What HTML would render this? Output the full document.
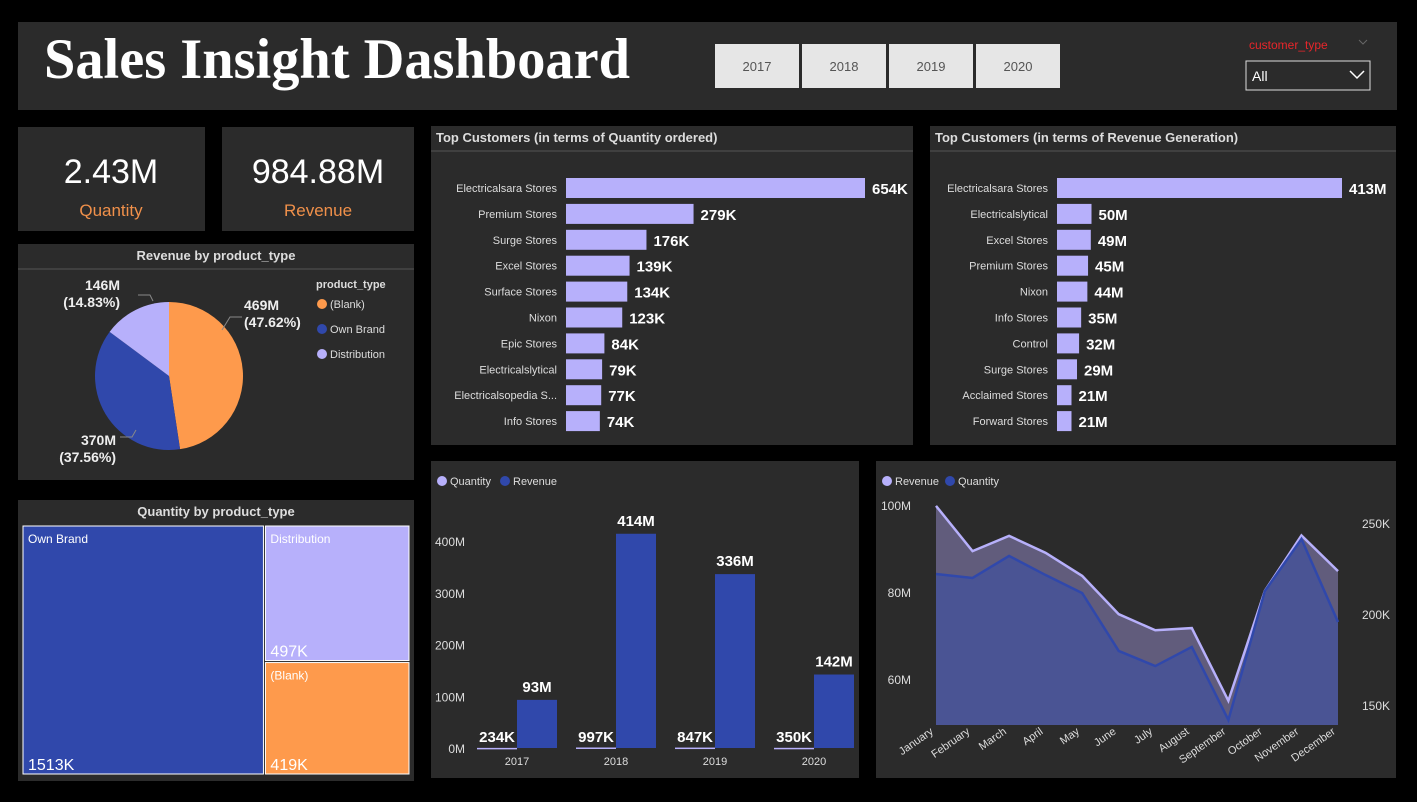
<!DOCTYPE html>
<html><head><meta charset="utf-8"><style>
body{margin:0;background:#000;width:1417px;height:797px;overflow:hidden;font-family:"Liberation Sans",sans-serif}
svg text{font-family:"Liberation Sans",sans-serif}
</style></head><body>
<svg id="s" width="1417" height="797" xmlns="http://www.w3.org/2000/svg">
<rect width="1417" height="797" fill="#000"/>
<g>
<rect x="18" y="22" width="1379" height="88" fill="#2b2b2b"/>
<text x="44" y="78" fill="#fff" font-size="57" font-weight="bold" textLength="586" lengthAdjust="spacingAndGlyphs" style="font-family:'Liberation Serif',serif">Sales Insight Dashboard</text>
</g>
<g id="years"></g>
<g>
<text x="1249" y="49" fill="#e8262b" font-size="12">customer_type</text>
<path d="M1359 40l4 4 4-4" stroke="#666" fill="none"/>
<rect x="1246" y="61" width="124" height="29" fill="#2b2b2b" stroke="#ddd"/>
<text x="1252" y="81" fill="#fff" font-size="14">All</text>
<path d="M1350 71l7 7 7-7" stroke="#fff" stroke-width="1.5" fill="none"/>
</g>
<g>
<rect x="18" y="127" width="187" height="104" fill="#2b2b2b"/>
<text x="111" y="183" fill="#fff" font-size="34" text-anchor="middle">2.43M</text>
<text x="111" y="216" fill="#f0904a" font-size="17" text-anchor="middle">Quantity</text>
</g>
<g>
<rect x="222" y="127" width="192" height="104" fill="#2b2b2b"/>
<text x="318" y="183" fill="#fff" font-size="34" text-anchor="middle">984.88M</text>
<text x="318" y="216" fill="#f0904a" font-size="17" text-anchor="middle">Revenue</text>
</g>
<g>
<rect x="18" y="244" width="396" height="236" fill="#2b2b2b"/>
<text x="216" y="260" fill="#ddd" font-size="13" font-weight="bold" text-anchor="middle">Revenue by product_type</text>
<line x1="18" y1="269" x2="414" y2="269" stroke="#555"/>
<g id="pie"></g>
<text x="316" y="288" fill="#ddd" font-size="11" font-weight="bold">product_type</text>
<g id="pieleg"></g>
</g>
<g>
<rect x="18" y="500" width="396" height="281" fill="#2b2b2b"/>
<text x="216" y="516" fill="#ddd" font-size="13" font-weight="bold" text-anchor="middle">Quantity by product_type</text>
<g id="tree"></g>
</g>
<g>
<rect x="431" y="126" width="482" height="319" fill="#2b2b2b"/>
<text x="436" y="142" fill="#ddd" font-size="13" font-weight="bold">Top Customers (in terms of Quantity ordered)</text>
<line x1="431" y1="151" x2="913" y2="151" stroke="#555"/>
<g id="hq"></g>
</g>
<g>
<rect x="930" y="126" width="466" height="319" fill="#2b2b2b"/>
<text x="935" y="142" fill="#ddd" font-size="13" font-weight="bold">Top Customers (in terms of Revenue Generation)</text>
<line x1="930" y1="151" x2="1396" y2="151" stroke="#555"/>
<g id="hr"></g>
</g>
<g>
<rect x="431" y="461" width="428" height="317" fill="#2b2b2b"/>
<circle cx="442" cy="481" r="5" fill="#b7b0fb"/><text x="450" y="485" fill="#ddd" font-size="11">Quantity</text>
<circle cx="505" cy="481" r="5" fill="#3048ab"/><text x="513" y="485" fill="#ddd" font-size="11">Revenue</text>
<g id="bars"></g>
</g>
<g>
<rect x="876" y="461" width="520" height="317" fill="#2b2b2b"/>
<circle cx="887" cy="481" r="5" fill="#b7b0fb"/><text x="895" y="485" fill="#ddd" font-size="11">Revenue</text>
<circle cx="950" cy="481" r="5" fill="#3048ab"/><text x="958" y="485" fill="#ddd" font-size="11">Quantity</text>
<g id="area"></g>
</g>
</svg>
<script>
const years=["2017","2018","2019","2020"];
const yearRev=[93,414,336,142];
const yearQty=[234,997,847,350];
const revTicks=[0,100,200,300,400];
const pieCats=["(Blank)","Own Brand","Distribution"];
const pieVals=[469,370,146];
const pieLabels=["469M","370M","146M"];
const piePcts=["(47.62%)","(37.56%)","(14.83%)"];
const treeCats=["Own Brand","Distribution","(Blank)"];
const treeVals=[1513,497,419];
const qCust=["Electricalsara Stores","Premium Stores","Surge Stores","Excel Stores","Surface Stores","Nixon","Epic Stores","Electricalslytical","Electricalsopedia S...","Info Stores"];
const qVals=[654,279,176,139,134,123,84,79,77,74];
const rCust=["Electricalsara Stores","Electricalslytical","Excel Stores","Premium Stores","Nixon","Info Stores","Control","Surge Stores","Acclaimed Stores","Forward Stores"];
const rVals=[413,50,49,45,44,35,32,29,21,21];
const months=["January","February","March","April","May","June","July","August","September","October","November","December"];
const mRev=[99.8,89.4,92.9,89,83.7,74.9,71.2,71.7,55,80.3,93,84.8];
const mQty=[222,219.8,231.9,221.4,211.5,179.7,171.4,181.9,141.8,212.6,241.2,195.6];
const leftTicks=[60,80,100];
const rightTicks=[150,200,250];

const NS="http://www.w3.org/2000/svg";
function mk(p,t,a,txt){const e=document.createElementNS(NS,t);for(const k in a)e.setAttribute(k,a[k]);if(txt!==undefined)e.textContent=txt;p.appendChild(e);return e;}
const $=id=>document.getElementById(id);

years.forEach((y,i)=>{const g=mk($("years"),"g",{});


mk(g,"rect",{x:715+i*87,y:44,width:84,height:44,fill:"#e6e6e6"});
mk(g,"text",{x:757+i*87,y:71,fill:"#555","font-size":13,"text-anchor":"middle"},y);});

(function(){const cx=169,cy=376,r=74,tot=pieVals.reduce((a,b)=>a+b,0);const cols=["#fe9a4c","#3048ab","#b7b0fb"];let a0=-Math.PI/2;
const lp=[[244,310,"start"],[116,445,"end"],[120,290,"end"]];
pieVals.forEach((v,i)=>{const a1=a0+v/tot*2*Math.PI;const x0=cx+r*Math.cos(a0),y0=cy+r*Math.sin(a0),x1=cx+r*Math.cos(a1),y1=cy+r*Math.sin(a1);
const p=mk($("pie"),"path",{d:`M${cx} ${cy}L${x0} ${y0}A${r} ${r} 0 ${a1-a0>Math.PI?1:0} 1 ${x1} ${y1}Z`,fill:cols[i]});


const t=mk($("pie"),"text",{x:lp[i][0],y:lp[i][1],fill:"#eee","font-size":14,"font-weight":"bold","text-anchor":lp[i][2]});


mk(t,"tspan",{x:lp[i][0]},pieLabels[i]);mk(t,"tspan",{x:lp[i][0],dy:17},piePcts[i]);
a0=a1;
const lg=mk($("pieleg"),"g",{});


mk(lg,"circle",{cx:322,cy:304+i*25,r:5,fill:cols[i]});
mk(lg,"text",{x:330,y:308+i*25,fill:"#ddd","font-size":11},pieCats[i]);});
mk($("pie"),"path",{d:"M222 330L230 317L242 317",stroke:"#888",fill:"none"});
mk($("pie"),"path",{d:"M120 437L132 437L136 430",stroke:"#888",fill:"none"});
mk($("pie"),"path",{d:"M138 295L150 295L153 301",stroke:"#888",fill:"none"});
})();

(function(){const x=23,y=526,w=386,h=248,tot=treeVals.reduce((a,b)=>a+b,0);const cols=["#3048ab","#b7b0fb","#fe9a4c"];
const w0=w*treeVals[0]/tot;const rest=treeVals[1]+treeVals[2];const h1=h*treeVals[1]/rest;
const rects=[[x,y,w0,h],[x+w0+2,y,w-w0-2,h1],[x+w0+2,y+h1+2,w-w0-2,h-h1-2]];
rects.forEach((r,i)=>{const g=mk($("tree"),"g",{});


mk(g,"rect",{x:r[0],y:r[1],width:r[2],height:r[3],fill:cols[i],stroke:"#fff","stroke-width":1});
mk(g,"text",{x:r[0]+5,y:r[1]+17,fill:"#fff","font-size":12},treeCats[i]);
mk(g,"text",{x:r[0]+5,y:r[1]+r[3]-4,fill:"#fff","font-size":16},treeVals[i]+"K");});
})();

function hbars(gid,names,vals,x0,pxMax,suffix){const mx=Math.max(...vals);
names.forEach((n,i)=>{const yc=188+i*25.9;const w=vals[i]/mx*pxMax;const g=mk($(gid),"g",{});


mk(g,"text",{x:x0-9,y:yc+4,fill:"#ddd","font-size":11,"text-anchor":"end"},n);
mk(g,"rect",{x:x0,y:yc-10,width:w,height:20,fill:"#b7b0fb"});
mk(g,"text",{x:x0+w+7,y:yc+6,fill:"#fff","font-size":15,"font-weight":"bold"},vals[i]+suffix);});}
hbars("hq",qCust,qVals,566,299,"K");
hbars("hr",rCust,rVals,1057,285,"M");

(function(){const y0=748,sc=207/400;const g=$("bars");
revTicks.forEach(t=>{mk(g,"text",{x:465,y:y0-t*sc+5,fill:"#ddd","font-size":12,"text-anchor":"end"},t+"M");});
years.forEach((yr,i)=>{const gx=477+i*99;const qh=yearQty[i]/1000*sc;const rh=yearRev[i]*sc;
const q=mk(g,"rect",{x:gx,y:y0-qh,width:40,height:Math.max(qh,1.5),fill:"#b7b0fb"});


const r=mk(g,"rect",{x:gx+40,y:y0-rh,width:40,height:rh,fill:"#3048ab"});


mk(g,"text",{x:gx+38,y:y0-6,fill:"#fff","font-size":15,"font-weight":"bold","text-anchor":"end"},yearQty[i]+"K");
mk(g,"text",{x:gx+60,y:y0-rh-8,fill:"#fff","font-size":15,"font-weight":"bold","text-anchor":"middle"},yearRev[i]+"M");
mk(g,"text",{x:gx+40,y:765,fill:"#ddd","font-size":11,"text-anchor":"middle"},yr);});
})();

(function(){const g=$("area");const xL=936,xR=1338,yb=725;const X=i=>xL+i*(xR-xL)/(months.length-1);
const YL=v=>679-(v-60)*87/20;const YR=v=>614-(v-200)*91/50;
leftTicks.forEach(t=>mk(g,"text",{x:911,y:YL(t)+5,fill:"#ddd","font-size":12,"text-anchor":"end"},t+"M"));
rightTicks.forEach(t=>mk(g,"text",{x:1390,y:YR(t)+5,fill:"#ddd","font-size":12,"text-anchor":"end"},t+"K"));
const pr=mRev.map((v,i)=>X(i)+","+YL(v)).join(" L");const pq=mQty.map((v,i)=>X(i)+","+YR(v)).join(" L");
const a1=mk(g,"path",{d:`M${xL},${yb} L${pr} L${xR},${yb}Z`,fill:"#615c7c"});


const a2=mk(g,"path",{d:`M${xL},${yb} L${pq} L${xR},${yb}Z`,fill:"#4a5494"});


const l1=mk(g,"path",{d:"M"+pr,stroke:"#b7b0fb","stroke-width":2.5,fill:"none"});


const l2=mk(g,"path",{d:"M"+pq,stroke:"#3048ab","stroke-width":2.5,fill:"none"});


months.forEach((m,i)=>{mk(g,"text",{x:X(i)-2,y:733,fill:"#ddd","font-size":11,"text-anchor":"end",transform:`rotate(-35 ${X(i)-2} 733)`},m);});
})();
</script>
</body></html>
